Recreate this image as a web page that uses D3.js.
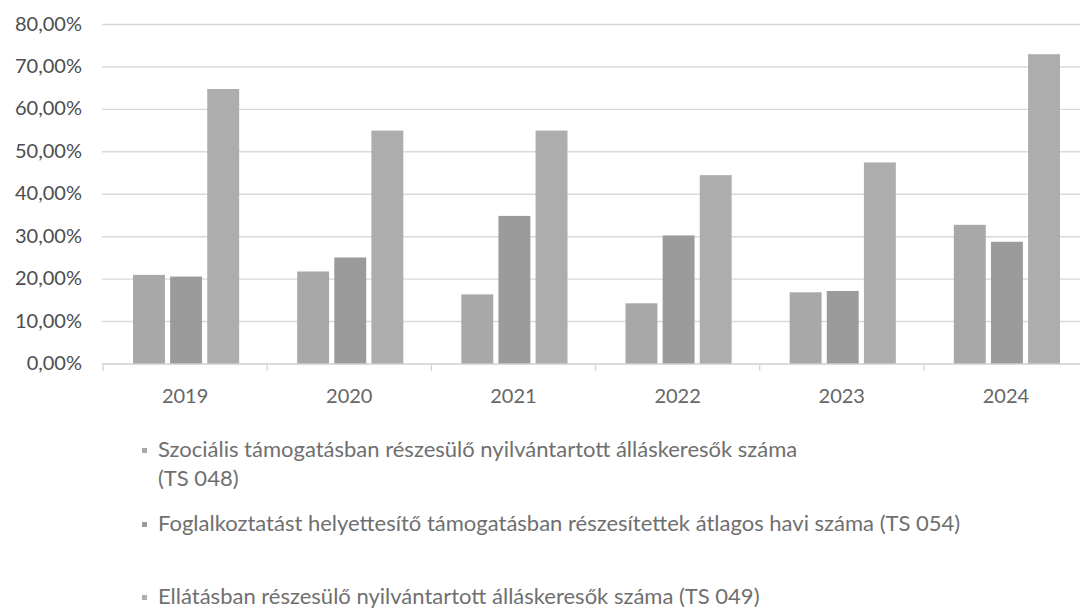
<!DOCTYPE html>
<html>
<head>
<meta charset="utf-8">
<script src="https://cdn.jsdelivr.net/npm/d3@7"></script>
<style>
  body { margin: 0; background: #fff; }
  svg { display: block; font-family: Lato, "Open Sans", sans-serif; }
</style>
</head>
<body>
<div id="chart"></div>
<script>
const years = ["2019", "2020", "2021", "2022", "2023", "2024"];
const seriesNames = [
  "Szociális támogatásban részesülő nyilvántartott álláskeresők száma",
  "Foglalkoztatást helyettesítő támogatásban részesítettek átlagos havi száma (TS 054)",
  "Ellátásban részesülő nyilvántartott álláskeresők száma (TS 049)"
];
const ts048 = [21.0, 21.8, 16.4, 14.3, 16.9, 32.8];
const ts054 = [20.6, 25.1, 34.9, 30.3, 17.2, 28.8];
const ts049 = [64.8, 55.0, 55.0, 44.5, 47.5, 73.0];
const yTicks = [0, 10, 20, 30, 40, 50, 60, 70, 80];

const W = 1080, H = 609;
const colors = ["#a8a8a8", "#9b9b9b", "#adadad"];

const svg = d3.select("#chart").append("svg")
  .attr("width", W)
  .attr("height", H);

const x = d3.scaleBand()
  .domain(years)
  .range([103, 1088])
  .paddingInner(0)
  .paddingOuter(0);

const xInner = d3.scaleBand()
  .domain([0, 1, 2])
  .range([30, x.bandwidth() - 28])
  .paddingInner(0.14);

const y = d3.scaleLinear()
  .domain([0, 80])
  .range([364, 24.5]);

const fmt = v => d3.format(".2f")(v).replace(".", ",") + "%";

// rácsvonalak
svg.append("g")
  .selectAll("line")
  .data(yTicks.filter(d => d > 0))
  .join("line")
  .attr("x1", 102)
  .attr("x2", W)
  .attr("y1", d => y(d))
  .attr("y2", d => y(d))
  .attr("stroke", "#d9d9d9")
  .attr("stroke-width", 1.4);

// y tengely feliratai
svg.append("g")
  .selectAll("text")
  .data(yTicks)
  .join("text")
  .attr("x", 82)
  .attr("y", d => y(d) + 1)
  .attr("text-anchor", "end")
  .attr("dominant-baseline", "middle")
  .attr("font-size", 20)
  .attr("fill", "#4d4d4d")
  .text(fmt);

// oszlopok
const rows = years.map((yr, i) => ({ year: yr, values: [ts048[i], ts054[i], ts049[i]] }));

svg.append("g")
  .selectAll("g")
  .data(rows)
  .join("g")
  .attr("transform", d => `translate(${x(d.year)},0)`)
  .selectAll("rect")
  .data(d => d.values.map((v, k) => ({ k, v })))
  .join("rect")
  .attr("x", d => xInner(d.k))
  .attr("y", d => y(d.v))
  .attr("width", xInner.bandwidth())
  .attr("height", d => y(0) - y(d.v))
  .attr("fill", d => colors[d.k]);

// x tengely
const xAxis = svg.append("g")
  .attr("transform", `translate(0,${y(0)})`)
  .call(d3.axisBottom(x).tickSize(0).tickPadding(25));
xAxis.select(".domain").attr("stroke", "#cfcfcf").attr("stroke-width", 1.5)
  .attr("d", `M102,0H${W}`);
xAxis.selectAll("text")
  .attr("font-family", "Lato, sans-serif")
  .attr("font-size", 20)
  .attr("fill", "#666");

svg.append("g")
  .selectAll("line")
  .data(years)
  .join("line")
  .attr("x1", d => x(d))
  .attr("x2", d => x(d))
  .attr("y1", y(0))
  .attr("y2", y(0) + 7)
  .attr("stroke", "#d6d6d6")
  .attr("stroke-width", 1.3);

// jelmagyarázat
const legendRows = [
  { k: 0, y: 451, lines: [seriesNames[0], "(TS 048)"] },
  { k: 1, y: 525, lines: [seriesNames[1]] },
  { k: 2, y: 598, lines: [seriesNames[2]] }
];

const legend = svg.append("g")
  .selectAll("g")
  .data(legendRows)
  .join("g")
  .attr("transform", d => `translate(0,${d.y})`);

legend.append("rect")
  .attr("x", 142)
  .attr("y", -3)
  .attr("width", 5)
  .attr("height", 5)
  .attr("fill", d => colors[d.k]);

legend.selectAll("text")
  .data(d => d.lines)
  .join("text")
  .attr("x", 158)
  .attr("y", (d, i) => i * 29)
  .attr("dominant-baseline", "middle")
  .attr("font-size", 22)
  .attr("fill", "#6f6f6f")
  .text(d => d);
</script>
</body>
</html>
